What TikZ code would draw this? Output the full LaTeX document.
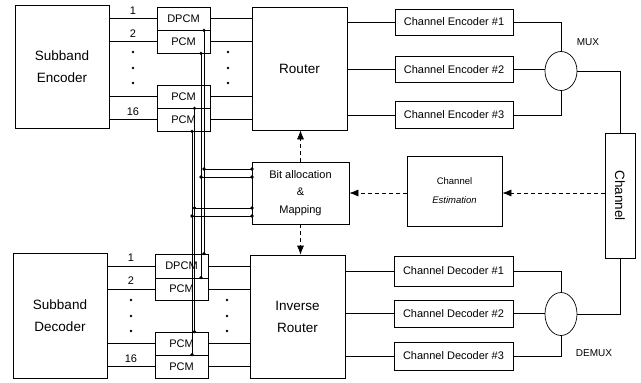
\documentclass[tikz,border=0pt]{standalone}
\usepackage{fontspec}
\setmainfont{Liberation Sans}
\usetikzlibrary{shapes.geometric,arrows.meta}
\tikzset{
  every path/.style={line width=0.7pt},
  blk/.style 2 args={draw, line width=0.7pt, inner sep=0pt, align=center, minimum width=#1pt, minimum height=#2pt},
  txt/.style={font=\fontsize{11}{14}\selectfont},
  big/.style={font=\fontsize{13.5}{22}\selectfont},
  lbl/.style={font=\fontsize{11}{13}\selectfont, inner sep=0pt},
  darrow/.style={dash pattern=on 4pt off 3pt, -{Latex[length=9pt,width=7pt]}},
  dot/.style={fill=black}
}
\begin{document}
\begin{tikzpicture}[x=1pt,y=-1pt]
\useasboundingbox (0,0) rectangle (641,383);
% main blocks
\node[blk={94}{123}, big] (senc) at (62,66.5) {Subband\\Encoder};
\node[blk={94}{125}, big] (sdec) at (60,315.5) {Subband\\Decoder};
\node[blk={95}{123}, big] (router) at (299.5,68.5) {Router};
\node[blk={95}{123}, big] (irouter) at (297.5,316.5) {Inverse\\Router};
\node[blk={97}{62}, font=\fontsize{11}{17.5}\selectfont] (bit) at (300.5,193) {Bit allocation\\\&\\Mapping};
\node[blk={95}{70}, font=\fontsize{9.5}{19}\selectfont] (est) at (454.5,191) {Channel\\\textit{Estimation}};
\node[blk={30}{125}] (chan) at (620,195.5) {};
\node[big, rotate=-90, inner sep=0pt] (chantext) at (chan.center) {Channel};
% PCM encoder side
\node[blk={53}{23}, txt] (e1) at (183.5,18.5) {DPCM};
\node[blk={53}{23}, txt] (e2) at (183.5,41.5) {PCM};
\node[blk={53}{23}, txt] (e3) at (183.5,96.5) {PCM};
\node[blk={53}{23}, txt] (e4) at (183.5,119.5) {PCM};
% PCM decoder side
\node[blk={53}{24}, txt] (d1) at (181.5,266) {DPCM};
\node[blk={53}{22}, txt] (d2) at (181.5,289) {PCM};
\node[blk={53}{23}, txt] (d3) at (181.5,343.5) {PCM};
\node[blk={53}{23}, txt] (d4) at (181.5,366.5) {PCM};
% channel coders
\node[blk={118}{26}, txt] (ce1) at (454,22) {Channel Encoder \#1};
\node[blk={118}{26}, txt] (ce2) at (454,69.5) {Channel Encoder \#2};
\node[blk={118}{27}, txt] (ce3) at (454,115) {Channel Encoder \#3};
\node[blk={119}{30}, txt] (cd1) at (453.5,271) {Channel Decoder \#1};
\node[blk={119}{27}, txt] (cd2) at (453.5,313.5) {Channel Decoder \#2};
\node[blk={119}{28}, txt] (cd3) at (453.5,356) {Channel Decoder \#3};
% mux / demux
\node[draw, ellipse, inner sep=0pt, minimum width=32pt, minimum height=39pt] (mux) at (561,71) {};
\node[draw, ellipse, inner sep=0pt, minimum width=32pt, minimum height=43pt] (demux) at (561,314) {};
\node[font=\fontsize{10}{12}\selectfont] (muxl) at (588,42) {MUX};
\node[font=\fontsize{10}{12}\selectfont] (demuxl) at (594,353) {DEMUX};
% encoder side wiring
\draw (e1.west -| senc.east) -- node[lbl, above=4pt] {1} (e1.west);
\draw (e2.west -| senc.east) -- node[lbl, above=4pt] {2} (e2.west);
\draw (e3.west -| senc.east) -- (e3.west);
\draw (e4.west -| senc.east) -- node[lbl, above=4pt] {16} (e4.west);
\foreach \e in {e1,e2,e3,e4} \draw (\e.east) -- (\e.east -| router.west);
\foreach \yy in {52,68,83} { \fill (133,\yy) circle (1.4); \fill (228,\yy) circle (1.4); }
% decoder side wiring
\draw (d1.west -| sdec.east) -- node[lbl, above=4pt] {1} (d1.west);
\draw (d2.west -| sdec.east) -- node[lbl, above=4pt] {2} (d2.west);
\draw (d3.west -| sdec.east) -- (d3.west);
\draw (d4.west -| sdec.east) -- node[lbl, above=4pt] {16} (d4.west);
\foreach \d in {d1,d2,d3,d4} \draw (\d.east) -- (\d.east -| irouter.west);
\foreach \yy in {300,316,331} { \fill (131,\yy) circle (1.4); \fill (227,\yy) circle (1.4); }
% router to channel coders
\foreach \c in {ce1,ce2,ce3} \draw (\c.west -| router.east) -- (\c.west);
\foreach \c in {cd1,cd2,cd3} \draw (\c.west -| irouter.east) -- (\c.west);
% mux / demux wiring
\draw (ce1.east) -| (mux.north);
\draw (ce2.east) -- (ce2.east -| mux.west);
\draw (ce3.east) -| (mux.south);
\draw (mux.east) -| (chan.north);
\draw (cd1.east) -| (demux.north);
\draw (cd2.east) -- (cd2.east -| demux.west);
\draw (cd3.east) -| (demux.south);
\draw (demux.east) -| (chan.south);
% dashed control arrows
\draw[darrow] (chan.west |- bit.east) -- (est.east |- bit.east);
\draw[darrow] (est.west |- bit.east) -- (bit.east);
\draw[darrow] (bit.north) -- (bit.north |- router.south);
\draw[darrow] (bit.south) -- (bit.south |- irouter.north);
% bus lines
\coordinate (xA) at (204,0);
\coordinate (xB) at (201,0);
\coordinate (xC) at (194.5,0);
\coordinate (xD) at (192,0);
\coordinate (jA) at (252,169);
\coordinate (jB) at (252,177);
\coordinate (jC) at (252,208);
\coordinate (jD) at (252,216);
\draw (e1.south -| xA) -- (d1.north -| xA);
\draw (e2.south -| xB) -- (d2.north -| xB);
\draw (e3.south -| xC) -- (d3.north -| xC);
\draw (e4.south -| xD) -- (d4.north -| xD);
\draw (xA |- jA) -- (jA);
\draw (xB |- jB) -- (jB);
\draw (xC |- jC) -- (jC);
\draw (xD |- jD) -- (jD);
\foreach \p in {xA/e1/d1/jA, xB/e2/d2/jB, xC/e3/d3/jC, xD/e4/d4/jD} {
  \foreach \x/\e/\d/\j in \p {
    \fill (\e.south -| \x) circle (1.8);
    \fill (\d.north -| \x) circle (1.8);
    \fill (\x |- \j) circle (1.8);
    \fill (\j) circle (1.8);
  }
}
\end{tikzpicture}
\end{document}
